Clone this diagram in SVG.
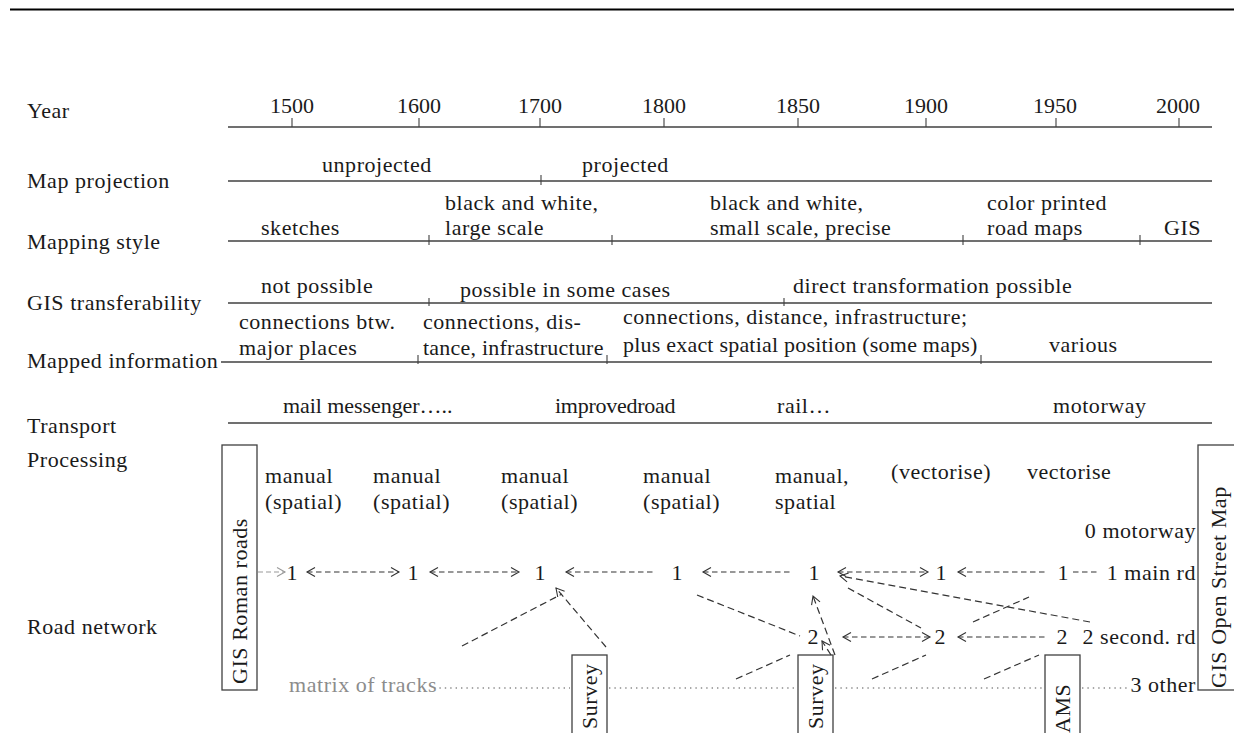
<svg xmlns="http://www.w3.org/2000/svg" width="1234" height="733" viewBox="0 0 1234 733">
<style>
text{font-family:"Liberation Serif","Times New Roman",serif;font-size:22px;fill:#1a1a1a;letter-spacing:0.55px}
.yr{letter-spacing:0}
.g{fill:#8c8c8c}
.ln{stroke:#404040;stroke-width:1.3;fill:none}
.tk{stroke:#404040;stroke-width:1.1}
.box{fill:none;stroke:#404040;stroke-width:1.3}
.d{stroke:#333;stroke-width:1.2;stroke-dasharray:7 4;fill:none}
.h{stroke:#333;stroke-width:1.1;stroke-dasharray:5.5 3.5;fill:none}
.gy{stroke:#9a9a9a;stroke-width:1.1;stroke-dasharray:5 3;fill:none}
.dot{stroke:#8c8c8c;stroke-width:1.4;stroke-dasharray:1.4 4;fill:none}
.mid{text-anchor:middle}
.end{text-anchor:end}
</style>
<defs>
<marker id="ah" viewBox="-10 -6 12 12" refX="0" refY="0" markerWidth="12" markerHeight="12" markerUnits="userSpaceOnUse" orient="auto-start-reverse"><path d="M-8,-4.5 L0,0 L-8,4.5" fill="none" stroke="#333" stroke-width="1.1"/></marker>
<marker id="ahg" viewBox="-10 -6 12 12" refX="0" refY="0" markerWidth="12" markerHeight="12" markerUnits="userSpaceOnUse" orient="auto-start-reverse"><path d="M-8,-4.5 L0,0 L-8,4.5" fill="none" stroke="#9a9a9a" stroke-width="1.1"/></marker>
</defs>
<line x1="10" y1="9.5" x2="1234" y2="9.5" stroke="#000" stroke-width="2.2"/>
<g id="row-labels">
<text x="27" y="118">Year</text>
<text x="27" y="188">Map projection</text>
<text x="27" y="249">Mapping style</text>
<text x="27" y="310">GIS transferability</text>
<text x="27" y="368">Mapped information</text>
<text x="27" y="433">Transport</text>
<text x="27" y="467">Processing</text>
<text x="27" y="634">Road network</text>
</g>
<g id="year-axis">
<line class="ln" x1="228" y1="127" x2="1212" y2="127"/>
<path class="tk" d="M292,118V127M419,118V127M540,118V127M664,118V127M798,118V127M926,118V127M1056,118V127M1179,118V127"/>
<text class="mid yr" x="292" y="113">1500</text>
<text class="mid yr" x="419" y="113">1600</text>
<text class="mid yr" x="540" y="113">1700</text>
<text class="mid yr" x="664" y="113">1800</text>
<text class="mid yr" x="798" y="113">1850</text>
<text class="mid yr" x="926" y="113">1900</text>
<text class="mid yr" x="1055" y="113">1950</text>
<text class="mid yr" x="1178" y="113">2000</text>
</g>
<g id="map-projection">
<line class="ln" x1="228" y1="181" x2="1212" y2="181"/>
<path class="tk" d="M541,175V185"/>
<text x="322" y="172">unprojected</text>
<text x="582" y="172">projected</text>
</g>
<g id="mapping-style">
<line class="ln" x1="228" y1="241" x2="1212" y2="241"/>
<path class="tk" d="M429,235V245M612,235V245M963,235V245M1140,235V245"/>
<text x="261" y="235">sketches</text>
<text x="445" y="210">black and white,</text>
<text x="445" y="235">large scale</text>
<text x="710" y="210">black and white,</text>
<text x="710" y="235">small scale, precise</text>
<text x="987" y="210">color printed</text>
<text x="987" y="235">road maps</text>
<text x="1164" y="235">GIS</text>
</g>
<g id="gis-transferability">
<line class="ln" x1="228" y1="303" x2="1212" y2="303"/>
<path class="tk" d="M429,298V306M784,298V306"/>
<text x="261" y="293">not possible</text>
<text x="460" y="297">possible in some cases</text>
<text x="793" y="293">direct transformation possible</text>
</g>
<g id="mapped-information">
<line class="ln" x1="221" y1="362" x2="1212" y2="362"/>
<path class="tk" d="M418,355V364M607,355V364M981,355V364"/>
<text x="239" y="329">connections btw.</text>
<text x="239" y="355">major places</text>
<text x="423" y="329">connections, dis-</text>
<text x="423" y="355" textLength="181">tance, infrastructure</text>
<text x="623" y="324">connections, distance, infrastructure;</text>
<text x="623" y="352" textLength="355">plus exact spatial position (some maps)</text>
<text x="1049" y="352">various</text>
</g>
<g id="transport">
<line class="ln" x1="228" y1="423" x2="1212" y2="423"/>
<text x="283" y="413" textLength="170">mail messenger…..</text>
<text x="555" y="413" textLength="121">improvedroad</text>
<text x="777" y="413">rail…</text>
<text x="1053" y="413">motorway</text>
</g>
<g id="processing">
<text x="265" y="483">manual</text>
<text x="265" y="509">(spatial)</text>
<text x="373" y="483">manual</text>
<text x="373" y="509">(spatial)</text>
<text x="501" y="483">manual</text>
<text x="501" y="509">(spatial)</text>
<text x="643" y="483">manual</text>
<text x="643" y="509">(spatial)</text>
<text x="775" y="483">manual,</text>
<text x="775" y="509">spatial</text>
<text x="891" y="479">(vectorise)</text>
<text x="1027" y="479">vectorise</text>
</g>
<g id="box-gis-roman-roads">
<rect class="box" x="222" y="445" width="35" height="245"/>
<text transform="translate(247,684) rotate(-90)">GIS Roman roads</text>
</g>
<g id="box-gis-osm">
<rect class="box" x="1198" y="445" width="50" height="245"/>
<text transform="translate(1226,688) rotate(-90)">GIS Open Street Map</text>
</g>
<g id="box-survey-1">
<rect class="box" x="572" y="655" width="35" height="90"/>
<text transform="translate(597,729) rotate(-90)">Survey</text>
</g>
<g id="box-survey-2">
<rect class="box" x="798" y="655" width="35" height="90"/>
<text transform="translate(823,729) rotate(-90)">Survey</text>
</g>
<g id="box-ams">
<rect class="box" x="1045" y="655" width="35" height="90"/>
<text transform="translate(1070,733) rotate(-90)">AMS</text>
</g>
<g id="road-nodes">
<text class="mid yr" x="292" y="580">1</text>
<text class="mid yr" x="413" y="580">1</text>
<text class="mid yr" x="540" y="580">1</text>
<text class="mid yr" x="677" y="580">1</text>
<text class="mid yr" x="814" y="580">1</text>
<text class="mid yr" x="941" y="580">1</text>
<text class="mid yr" x="1063" y="580">1</text>
<text class="end" x="1196" y="580">1 main rd</text>
<text class="mid yr" x="813" y="644">2</text>
<text class="mid yr" x="940" y="644">2</text>
<text class="mid yr" x="1062" y="644">2</text>
<text class="end" x="1196" y="644">2 second. rd</text>
<text class="end" x="1196" y="538">0 motorway</text>
<text class="end" x="1196" y="692">3 other</text>
<text class="g" x="289" y="692">matrix of tracks</text>
</g>
<g id="connectors">
<line class="gy" x1="258" y1="572" x2="285" y2="572" marker-end="url(#ahg)"/>
<line class="h" x1="307" y1="572" x2="399" y2="572" marker-start="url(#ah)" marker-end="url(#ah)"/>
<line class="h" x1="430" y1="572" x2="519" y2="572" marker-start="url(#ah)" marker-end="url(#ah)"/>
<line class="h" x1="566" y1="572" x2="655" y2="572" marker-start="url(#ah)"/>
<line class="h" x1="703" y1="572" x2="791" y2="572" marker-start="url(#ah)"/>
<line class="h" x1="838" y1="572" x2="928" y2="572" marker-start="url(#ah)" marker-end="url(#ah)"/>
<line class="h" x1="958" y1="572" x2="1047" y2="572" marker-start="url(#ah)"/>
<line class="h" x1="1073" y1="572" x2="1097" y2="572"/>
<line class="h" x1="843" y1="637" x2="930" y2="637" marker-start="url(#ah)" marker-end="url(#ah)"/>
<line class="h" x1="958" y1="637" x2="1047" y2="637" marker-start="url(#ah)"/>
<line class="d" x1="462" y1="646" x2="562" y2="594"/>
<line class="d" x1="606" y1="647" x2="556" y2="588" marker-end="url(#ah)"/>
<line class="d" x1="697" y1="595" x2="800" y2="636"/>
<line class="d" x1="835" y1="655" x2="813" y2="596" marker-end="url(#ah)"/>
<line class="d" x1="831" y1="655" x2="822" y2="641" marker-end="url(#ah)"/>
<line class="d" x1="848" y1="588" x2="921" y2="628"/>
<line class="d" x1="1090" y1="622" x2="840" y2="576" marker-end="url(#ah)"/>
<line class="d" x1="973" y1="622" x2="1029" y2="597"/>
<line class="d" x1="736" y1="679" x2="790" y2="655"/>
<line class="d" x1="872" y1="679" x2="926" y2="655"/>
<line class="d" x1="984" y1="679" x2="1039" y2="655"/>
<path class="dot" d="M434,688H570M609,688H797M835,688H1044M1082,688H1129"/>
</g>
</svg>
